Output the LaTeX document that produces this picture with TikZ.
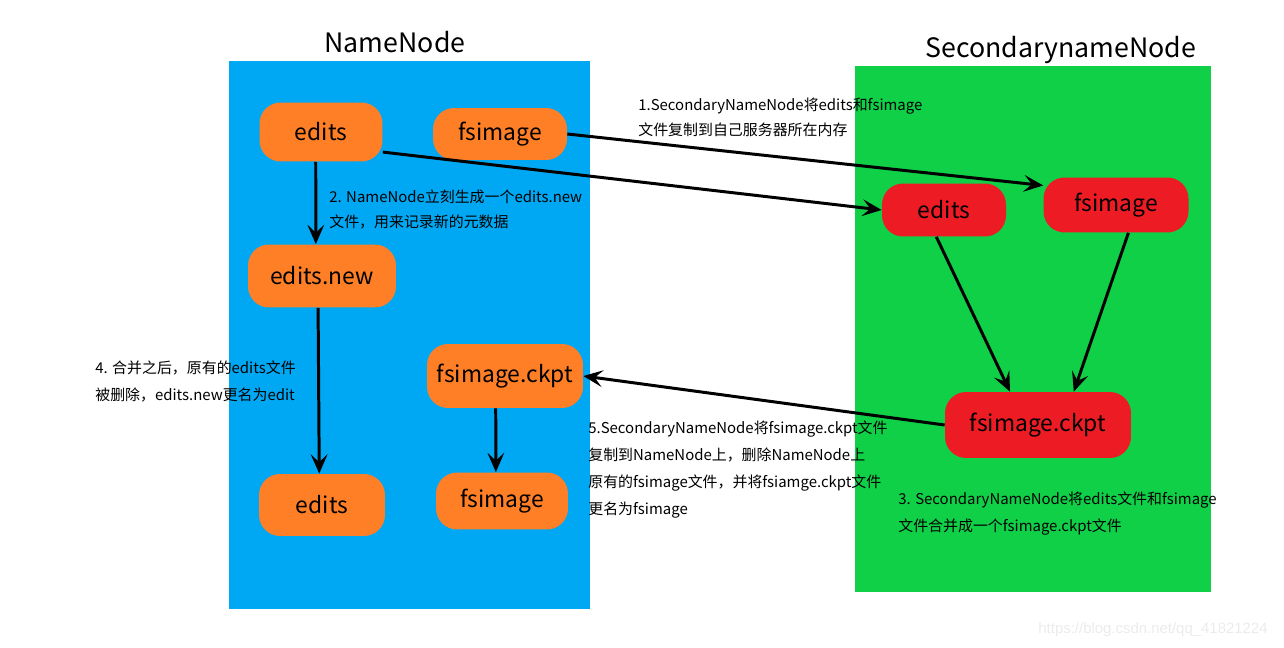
\documentclass[tikz,border=0pt]{standalone}
\usepackage{fontspec}
\setmainfont{Noto Sans CJK SC}
\newfontfamily\wmfont{Liberation Sans}
\usetikzlibrary{arrows.meta}
\definecolor{nnblue}{RGB}{0,168,243}
\definecolor{snngreen}{RGB}{16,208,72}
\definecolor{nnorange}{RGB}{255,127,39}
\definecolor{snnred}{RGB}{237,28,36}

\begin{document}
\begin{tikzpicture}
  [x=0.02cm,y=-0.02cm,
   box/.style={rounded corners=12pt,inner sep=0pt,font=\fontsize{13}{15}\selectfont},
   nnbox/.style={box,fill=nnorange},
   snnbox/.style={box,fill=snnred},
   title/.style={font=\fontsize{15.2}{18}\selectfont},
   note/.style={anchor=north west,align=left,inner sep=0pt,font=\fontsize{8.5}{15.5}\selectfont},
   arr/.style={line width=1.7pt,-{Stealth[length=11pt,width=9.5pt,inset=4.5pt]}}]
  \useasboundingbox (0,0) rectangle (1284,648);
  \fill[nnblue] (229,61) rectangle (590,609);
  \fill[snngreen] (855,66) rectangle (1211,592);

  \node[title] (tnn) at (395,42) {NameNode};
  \node[title] (tsnn) at (1061,50) {SecondarynameNode};

  % NameNode
  \node[nnbox,minimum width=2.46cm,minimum height=1.18cm] (e1) at (321,132) {edits};
  \node[nnbox,minimum width=2.68cm,minimum height=1.04cm] (f1) at (500,134) {fsimage};
  \node[nnbox,minimum width=2.96cm,minimum height=1.26cm] (en) at (322,276) {edits.new};
  \node[nnbox,minimum width=3.12cm,minimum height=1.28cm] (ck) at (505,376) {fsimage.ckpt};
  \node[nnbox,minimum width=2.52cm,minimum height=1.24cm] (e2) at (322,505) {edits};
  \node[nnbox,minimum width=2.64cm,minimum height=1.14cm] (f2) at (502,501) {fsimage};

  % SecondaryNameNode
  \node[snnbox,minimum width=2.48cm,minimum height=1.06cm] (re) at (944,210) {edits};
  \node[snnbox,minimum width=2.90cm,minimum height=1.10cm] (rf) at (1116,205) {fsimage};
  \node[snnbox,minimum width=3.72cm,minimum height=1.32cm] (rc) at (1038,425) {fsimage.ckpt};

  \foreach \from/\to in {e1.-18/re.west,f1.east/rf.165,e1.-100/en.101,en.-97/e2.95,ck.-106/f2.102,re.-106/rc.130,rf.-66/rc.43,rc.west/ck.east}
    \draw[arr] (\from) -- (\to);

  \node[note,font=\fontsize{8.5}{14.2}\selectfont] (n1) at (638,98)
    {1.SecondaryNameNode将edits和fsimage\\文件复制到自己服务器所在内存};
  \node[note,font=\fontsize{8.5}{14.2}\selectfont] (n2) at (329,190)
    {2. NameNode立刻生成一个edits.new\\文件，用来记录新的元数据};
  \node[note] (n3) at (898,491)
    {3. SecondaryNameNode将edits文件和fsimage\\文件合并成一个fsimage.ckpt文件};
  \node[note] (n4) at (95,360)
    {4. 合并之后，原有的edits文件\\被删除，edits.new更名为edit};
  \node[note] (n5) at (588,420)
    {5.SecondaryNameNode将fsimage.ckpt文件\\复制到NameNode上，删除NameNode上\\原有的fsimage文件，并将fsiamge.ckpt文件\\更名为fsimage};

  \node[font=\wmfont\fontsize{8.5}{10}\selectfont,text=black!8] (wm) at (1153,630) {https://blog.csdn.net/qq\_41821224};
\end{tikzpicture}
\end{document}
